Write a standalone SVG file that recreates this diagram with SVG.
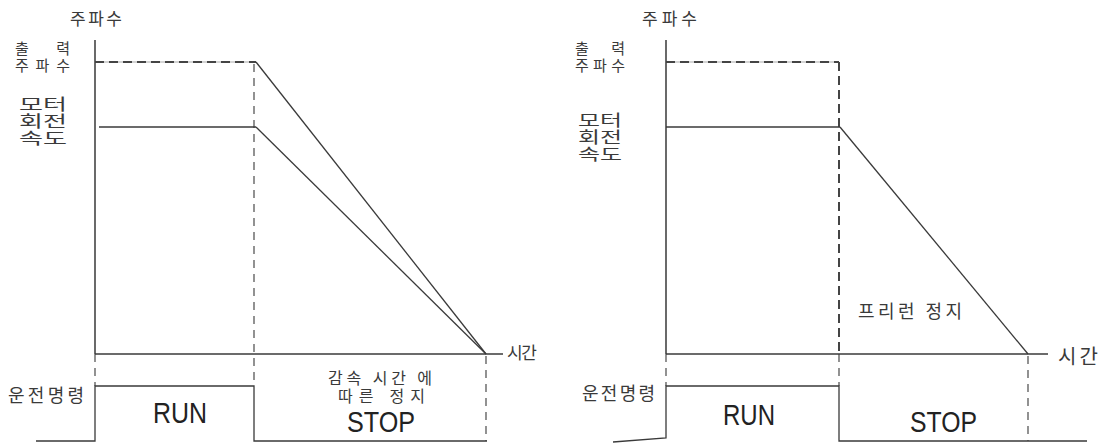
<svg xmlns="http://www.w3.org/2000/svg" width="1109" height="443" viewBox="0 0 1109 443">
<style>
.ln{stroke:#3a3a3a;stroke-width:1.3;fill:none}
.ax{stroke:#2a2a2a;stroke-width:1.4;fill:none}
.ds{stroke:#777;stroke-width:1.6;stroke-dasharray:8 6;fill:none}
.dk{stroke:#444;stroke-width:2;stroke-dasharray:9 5;fill:none}
.bg{stroke:#aaa;stroke-width:1.2;fill:none}
.kr{font-family:"Noto Sans CJK KR","Noto Sans CJK SC",sans-serif;fill:#3a3a3a}
.en{font-family:"Liberation Sans Narrow","Liberation Sans",Arial,sans-serif;fill:#222}
</style>
<rect width="1109" height="443" fill="#fff"/>
<g id="connectors">
<line class="ax" x1="95" y1="40" x2="95" y2="354"/>
<line class="bg" x1="95" y1="62" x2="256" y2="62"/>
<line class="dk" x1="95" y1="62" x2="256" y2="62"/>
<line class="ds" x1="95" y1="354" x2="95" y2="386"/>
<line class="ds" x1="254" y1="64" x2="254" y2="386"/>
<line class="ln" x1="99" y1="127" x2="256" y2="127"/>
<line class="ln" x1="256" y1="62" x2="486" y2="354"/>
<line class="ln" x1="256" y1="127" x2="486" y2="354"/>
<line class="ln" x1="95" y1="354" x2="503" y2="354"/>
<line class="ds" x1="486" y1="356" x2="486" y2="441"/>
<polyline class="ln" points="36,441 95,441 95,386 254,386 254,441 487,441"/>
<line class="ax" x1="666" y1="40" x2="666" y2="354"/>
<line class="bg" x1="666" y1="62" x2="839" y2="62"/>
<line class="dk" x1="666" y1="62" x2="839" y2="62"/>
<line class="dk" x1="839" y1="62" x2="839" y2="354"/>
<line class="ds" x1="666" y1="354" x2="666" y2="386"/>
<line class="ds" x1="839" y1="354" x2="839" y2="386"/>
<line class="ln" x1="666" y1="127" x2="840" y2="127"/>
<line class="ln" x1="840" y1="127" x2="1028" y2="354"/>
<line class="ln" x1="666" y1="354" x2="1048" y2="354"/>
<line class="ds" x1="1028" y1="356" x2="1028" y2="441"/>
<polyline class="ln" points="613,442 666,438 666,386 839,386 839,441 1087,441"/>
</g>
<g id="left-labels">
<text class="kr" x="70" y="25" font-size="17" textLength="52" lengthAdjust="spacing">주파수</text>
<text class="kr" font-size="15"><tspan x="15" y="54" textLength="55" lengthAdjust="spacing">출 력</tspan><tspan x="15" y="71" textLength="55" lengthAdjust="spacing">주파수</tspan></text>
<text class="kr" font-size="16"><tspan x="19" y="110" textLength="48" lengthAdjust="spacingAndGlyphs">모터</tspan><tspan x="19" y="127" textLength="48" lengthAdjust="spacingAndGlyphs">회전</tspan><tspan x="19" y="144" textLength="48" lengthAdjust="spacingAndGlyphs">속도</tspan></text>
<text class="kr" x="8" y="402" font-size="18" textLength="76" lengthAdjust="spacing">운전명령</text>
<text class="kr" x="507" y="359" font-size="17" textLength="30" lengthAdjust="spacing">시간</text>
</g>
<g id="left-run"><text class="en" x="153" y="423" font-size="29" textLength="54" lengthAdjust="spacingAndGlyphs">RUN</text></g>
<g id="left-stop">
<text class="kr" font-size="16"><tspan x="328" y="384" textLength="104" lengthAdjust="spacing">감속 시간 에</tspan><tspan x="338" y="402" textLength="87" lengthAdjust="spacing">따른  정지</tspan></text>
<text class="en" x="347" y="432" font-size="29" textLength="68" lengthAdjust="spacingAndGlyphs">STOP</text>
</g>
<g id="right-labels">
<text class="kr" x="642" y="25" font-size="17" textLength="55" lengthAdjust="spacing">주파수</text>
<text class="kr" font-size="15"><tspan x="575" y="54" textLength="50" lengthAdjust="spacing">출 력</tspan><tspan x="575" y="71" textLength="50" lengthAdjust="spacing">주파수</tspan></text>
<text class="kr" font-size="16"><tspan x="578" y="126" textLength="44" lengthAdjust="spacingAndGlyphs">모터</tspan><tspan x="578" y="143" textLength="44" lengthAdjust="spacingAndGlyphs">회전</tspan><tspan x="578" y="160" textLength="44" lengthAdjust="spacingAndGlyphs">속도</tspan></text>
<text class="kr" x="582" y="400" font-size="18" textLength="73" lengthAdjust="spacing">운전명령</text>
<text class="kr" x="858" y="318" font-size="18" textLength="104" lengthAdjust="spacing">프리런 정지</text>
<text class="kr" x="1058" y="364" font-size="20" textLength="40" lengthAdjust="spacing">시간</text>
</g>
<g id="right-run"><text class="en" x="723" y="425" font-size="29" textLength="52" lengthAdjust="spacingAndGlyphs">RUN</text></g>
<g id="right-stop"><text class="en" x="910" y="432" font-size="29" textLength="67" lengthAdjust="spacingAndGlyphs">STOP</text></g>
</svg>
